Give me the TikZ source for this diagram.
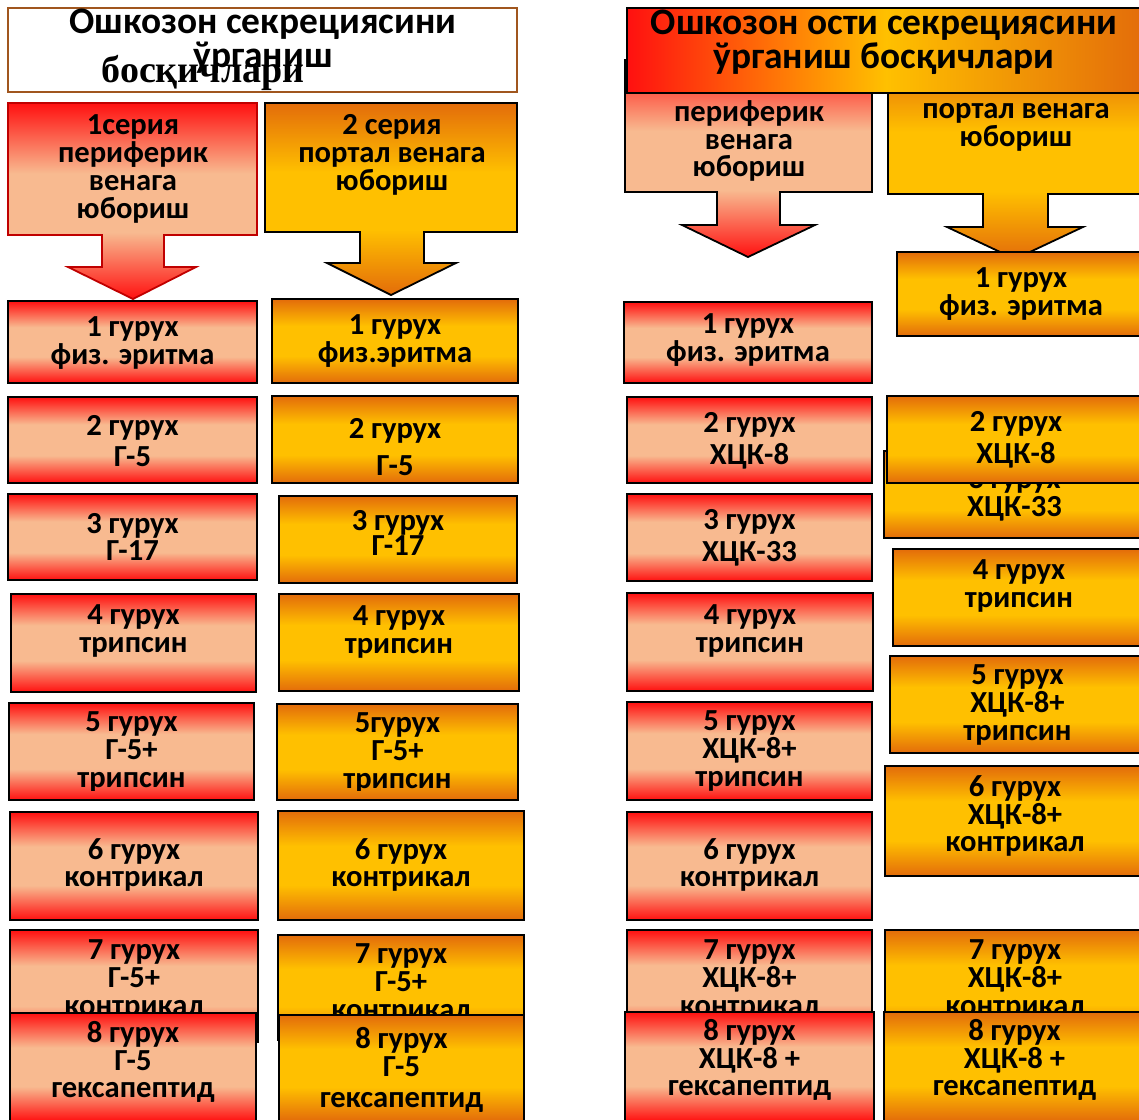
\documentclass[tikz,border=0pt]{standalone}
\usepackage{fontspec}
\setmainfont{Carlito}
\newfontfamily\timesfont{Liberation Serif}
\usetikzlibrary{fit}
\definecolor{cred}{HTML}{FF1010}
\definecolor{cpeach}{HTML}{F8BA90}
\definecolor{corange}{HTML}{E36C0A}
\definecolor{cgold}{HTML}{FFC000}
\definecolor{cbrown}{HTML}{A0561E}
\definecolor{cdarkred}{HTML}{C00000}
\pgfdeclareverticalshading{redbar}{100bp}{color(0bp)=(cred); color(25bp)=(cred); color(41bp)=(cpeach); color(59bp)=(cpeach); color(75bp)=(cred); color(100bp)=(cred)}
\pgfdeclareverticalshading{orangebar}{100bp}{color(0bp)=(corange); color(25bp)=(corange); color(41bp)=(cgold); color(59bp)=(cgold); color(75bp)=(corange); color(100bp)=(corange)}
\pgfdeclareverticalshading{redcall}{100bp}{color(0bp)=(cred); color(25bp)=(cred); color(42bp)=(cpeach); color(57bp)=(cpeach); color(75bp)=(cred); color(100bp)=(cred)}
\pgfdeclareverticalshading{orangecall}{100bp}{color(0bp)=(corange); color(25bp)=(corange); color(42bp)=(cgold); color(57bp)=(cgold); color(75bp)=(corange); color(100bp)=(corange)}
\tikzset{
  every picture/.style={line width=0.9pt},
  rbox/.style={draw=black, shade, shading=redbar, inner sep=0pt},
  obox/.style={draw=black, shade, shading=orangebar, inner sep=0pt},
  rcall/.style={draw=black, shade, shading=redcall},
  ocall/.style={draw=black, shade, shading=orangecall},
  grp/.style={font=\bfseries\fontsize{15.3}{13.9}\selectfont, align=center, inner sep=0pt},
  ttl/.style={font=\bfseries\fontsize{18.7}{13.2}\selectfont, align=center, inner sep=0pt},
}

\begin{document}
\begin{tikzpicture}[x=0.5pt, y=-0.5pt]
  \useasboundingbox (0,0) rectangle (1139,1119);
  % series arrows
  \path[rcall, draw=cdarkred] (8,103) -- (257,103) -- (257,235) -- (164,235) -- (164,267) -- (196,267) -- (133,299)
    -- (68,267) -- (102,267) -- (102,235) -- (8,235) -- cycle;
  \node[grp] (s1) at (133,169) {1серия\\периферик\\венага\\юбориш};
  \path[ocall] (265,103) -- (517,103) -- (517,232) -- (424,232) -- (424,263) -- (456,263) -- (391,295)
    -- (327,263) -- (360,263) -- (360,232) -- (265,232) -- cycle;
  \node[grp] (s2) at (392,155) {2 серия\\портал венага\\юбориш};
  \path[rcall] (625,60) -- (872,60) -- (872,192) -- (780,192) -- (780,225) -- (815,225) -- (748,257)
    -- (682,225) -- (717,225) -- (717,192) -- (625,192) -- cycle;
  \node[grp] (s3) at (749,141) {периферик\\венага\\юбориш};
  \path[ocall] (888,60) -- (1145,60) -- (1145,194) -- (1048,194) -- (1048,227) -- (1083,227) -- (1015,259)
    -- (947,227) -- (983,227) -- (983,194) -- (888,194) -- cycle;
  \node[grp] (s4) at (1016,127) {портал венага\\юбориш};

  % titles
  \node[draw=cbrown, line width=1.4pt, fill=white, inner sep=0pt, fit={(8,8) (517,92)}] (t1) {};
  \node[ttl] at (263,41) {Ошкозон секрециясини\\ўрганиш};
  \node[font=\timesfont\bfseries\fontsize{19}{19}\selectfont, inner sep=0pt] at (203,73) {босқичлари};
  \node[draw=black, left color=cred, right color=corange, middle color=cgold, inner sep=0pt,
    fit={(627,8) (1145,93)}] (t2) {};
  \node[ttl] at (884,42) {Ошкозон ости секрециясини\\ўрганиш босқичлари};

  % groups, series 1 (stomach)
  \foreach \n/\xa/\ya/\xb/\yb/\yt/\yc/\t in {
    a1/8/301/257/383/343/383/{1 гурух\\физ. эритма},
    a2/8/397/257/483/441/483/{2 гурух\\[2pt]Г-5},
    a3/8/494/257/580/537/580/{3 гурух\\Г-17},
    a4/11/594/256/692/631/692/{4 гурух\\трипсин},
    a5/9/703/254/800/752/790/{5 гурух\\Г-5+\\трипсин},
    a6/10/812/258/920/865/920/{6 гурух\\контрикал},
    a7/10/930/258/1042/980/1042/{7 гурух\\Г-5+\\контрикал},
    a8/10/1013/256/1121/1062/1121/{8 гурух\\Г-5\\гексапептид}} {
    \node[rbox, fit={(\xa,\ya) (\xb,\yb)}] (\n) {};
    \begin{scope}
      \clip (\xa,\ya) rectangle (\xb,\yc);
      \node[grp] at ({(\xa+\xb)/2},\yt) {\t};
    \end{scope}
  }
  % groups, series 2 (stomach)
  \foreach \n/\xa/\ya/\xb/\yb/\yt/\yc/\t in {
    b1/272/299/518/383/341/383/{1 гурух\\физ.эритма},
    b2/272/396/518/483/447/483/{2 гурух\\[5pt]Г-5},
    b3/279/496/517/583/533/583/{3 гурух\\[-1pt]Г-17},
    b4/279/594/519/691/632/691/{4 гурух\\трипсин},
    b5/277/704/518/800/753/790/{5гурух\\Г-5+\\трипсин},
    b6/278/811/524/920/865/920/{6 гурух\\контрикал},
    b7/278/935/524/1040/984/1040/{7 гурух\\Г-5+\\контрикал},
    b8/279/1015/524/1121/1070/1121/{8 гурух\\Г-5\\[2pt]гексапептид}} {
    \node[obox, fit={(\xa,\ya) (\xb,\yb)}] (\n) {};
    \begin{scope}
      \clip (\xa,\ya) rectangle (\xb,\yc);
      \node[grp] at ({(\xa+\xb)/2},\yt) {\t};
    \end{scope}
  }
  % groups, series 1 (pancreas)
  \foreach \n/\xa/\ya/\xb/\yb/\yt/\yc/\t in {
    c1/624/302/872/383/340/383/{1 гурух\\физ. эритма},
    c2/627/397/872/483/441/483/{2 гурух\\[2pt]ХЦК-8},
    c3/627/494/872/581/538/581/{3 гурух\\[2pt]ХЦК-33},
    c4/627/593/873/691/631/691/{4 гурух\\трипсин},
    c5/627/702/872/800/751/790/{5 гурух\\ХЦК-8+\\трипсин},
    c6/627/812/872/920/865/920/{6 гурух\\контрикал},
    c7/627/930/872/1040/980/1040/{7 гурух\\ХЦК-8+\\контрикал},
    c8/625/1012/874/1121/1060/1121/{8 гурух\\ХЦК-8 +\\гексапептид}} {
    \node[rbox, fit={(\xa,\ya) (\xb,\yb)}] (\n) {};
    \begin{scope}
      \clip (\xa,\ya) rectangle (\xb,\yc);
      \node[grp] at ({(\xa+\xb)/2},\yt) {\t};
    \end{scope}
  }
  % groups, series 2 (pancreas)
  \foreach \n/\xa/\ya/\xb/\yb/\yt/\yc/\t in {
    d1/897/252/1145/336/294/336/{1 гурух\\физ. эритма},
    d3/884/451/1145/538/495/538/{3 гурух\\ХЦК-33},
    d2/887/396/1145/483/440/483/{2 гурух\\[2pt]ХЦК-8},
    d4/893/549/1145/646/586/646/{4 гурух\\трипсин},
    d5/890/656/1145/753/705/745/{5 гурух\\ХЦК-8+\\трипсин},
    d6/885/766/1145/876/816/876/{6 гурух\\ХЦК-8+\\контрикал},
    d7/885/930/1145/1040/980/1040/{7 гурух\\ХЦК-8+\\контрикал},
    d8/884/1012/1145/1121/1060/1121/{8 гурух\\ХЦК-8 +\\гексапептид}} {
    \node[obox, fit={(\xa,\ya) (\xb,\yb)}] (\n) {};
    \begin{scope}
      \clip (\xa,\ya) rectangle (\xb,\yc);
      \node[grp] at ({(\xa+\xb)/2},\yt) {\t};
    \end{scope}
  }
\end{tikzpicture}
\end{document}
